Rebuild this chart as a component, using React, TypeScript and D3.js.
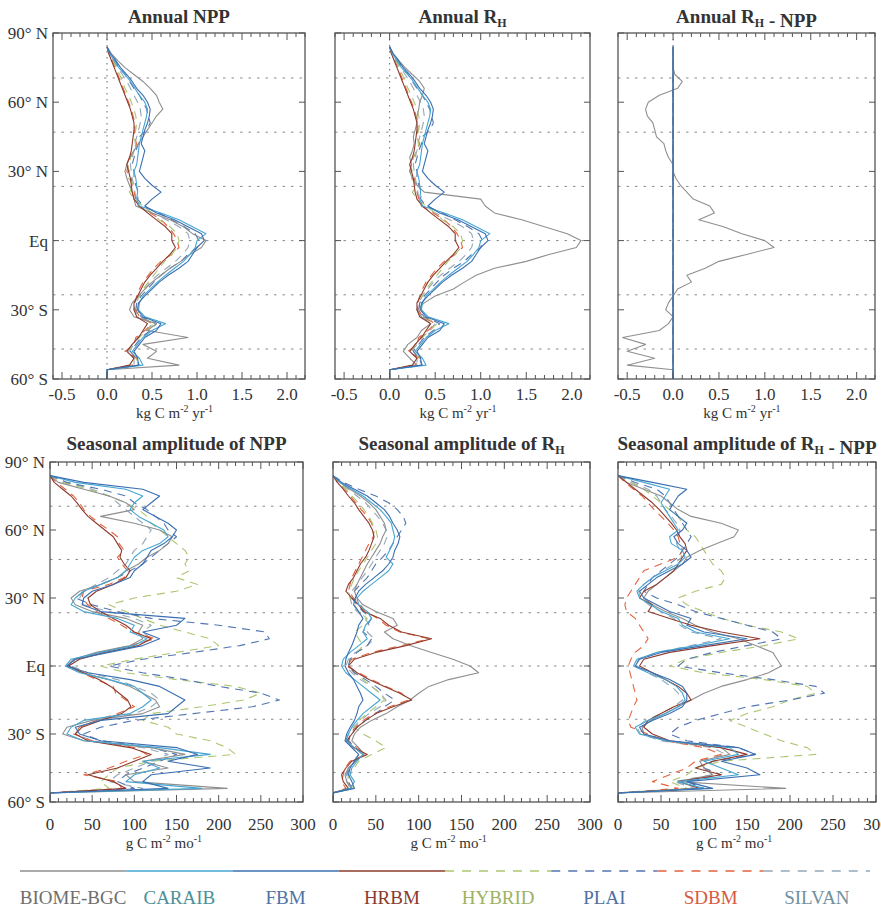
import React from 'react';
import * as d3 from 'd3';

const FONT = "'Liberation Serif','Times New Roman',Times,serif";

// latitude grid (degrees, north positive)
const lats = [
  84, 81, 78, 75, 72, 69, 66, 63, 60, 57,
  54, 51, 48, 45, 42, 39, 36, 33, 30, 27,
  24, 21, 18, 15, 12, 9, 6, 3, 0, -3,
  -6, -9, -12, -15, -18, -21, -24, -27, -30, -33,
  -36, -39, -42, -45, -48, -51, -54, -56, -60,
];

const modelNames = ['BIOME-BGC', 'CARAIB', 'FBM', 'HRBM', 'HYBRID', 'PLAI', 'SDBM', 'SILVAN'];
const lineColors = ['#8f8f8f', '#45a6d2', '#3a6fb2', '#8e3a2c', '#adc670', '#5276b0', '#e4623f', '#93a8b8'];
const labelColors = ['#6e6e6e', '#4a9199', '#4f73a6', '#8a3b2e', '#9db262', '#5070a4', '#d65b40', '#7190a0'];
const dashedModels = [false, false, false, false, true, true, true, true];

// ---------- Annual NPP (kg C m-2 yr-1) ----------
const annualNppBiome = [
  0, 0.05, 0.12, 0.2, 0.3, 0.4, 0.48, 0.55, 0.58, 0.62,
  0.55, 0.5, 0.45, 0.4, 0.35, 0.3, 0.25, 0.22, 0.2, 0.22,
  0.25, 0.28, 0.3, 0.32, 0.5, 0.7, 0.85, 0.95, 1.1, 1.05,
  0.92, 0.82, 0.7, 0.6, 0.5, 0.42, 0.35, 0.28, 0.25, 0.3,
  0.55, 0.45, 0.9, 0.4, 0.55, 0.45, 0.8, 0, 0,
];
const annualNppCaraib = [
  0, 0.03, 0.08, 0.13, 0.2, 0.26, 0.31, 0.36, 0.42, 0.45,
  0.44, 0.42, 0.4, 0.38, 0.36, 0.35, 0.34, 0.33, 0.3, 0.32,
  0.33, 0.34, 0.33, 0.36, 0.6, 0.8, 0.95, 1.1, 1.0, 0.98,
  0.92, 0.85, 0.75, 0.65, 0.56, 0.48, 0.4, 0.36, 0.35, 0.42,
  0.65, 0.5, 0.4, 0.34, 0.28, 0.36, 0.4, 0, 0,
];
const annualNppFbm = [
  0, 0.04, 0.1, 0.15, 0.22, 0.28, 0.33, 0.4, 0.45, 0.48,
  0.47, 0.45, 0.42, 0.4, 0.38, 0.42, 0.4, 0.38, 0.36, 0.42,
  0.5, 0.6, 0.5, 0.42, 0.55, 0.75, 0.9, 1.05, 1.08, 1.0,
  0.95, 0.9, 0.8, 0.68, 0.58, 0.5, 0.42, 0.35, 0.34, 0.4,
  0.6, 0.55, 0.42, 0.36, 0.3, 0.34, 0.35, 0, 0,
];
const annualNppHrbm = [
  0, 0.02, 0.05, 0.08, 0.11, 0.14, 0.17, 0.2, 0.23, 0.26,
  0.28, 0.3, 0.3, 0.29, 0.28, 0.27, 0.25, 0.22, 0.24, 0.26,
  0.27, 0.28, 0.3, 0.36, 0.45, 0.55, 0.65, 0.72, 0.72, 0.76,
  0.7, 0.62, 0.55, 0.48, 0.42, 0.38, 0.34, 0.3, 0.3, 0.33,
  0.45, 0.4, 0.35, 0.28, 0.22, 0.3, 0.25, 0, 0,
];
const annualNppHybrid = [
  0, 0.03, 0.07, 0.1, 0.14, 0.17, 0.2, 0.24, 0.27, 0.3,
  0.32, 0.33, 0.32, 0.3, 0.32, 0.3, 0.26, 0.22, 0.25, 0.24,
  0.3, 0.25, 0.3, 0.4, 0.5, 0.58, 0.7, 0.78, 0.8, 0.78,
  0.72, 0.64, 0.58, 0.52, 0.46, 0.4, 0.36, 0.32, 0.34, 0.38,
  0.52, 0.44, 0.36, 0.28, 0.24, 0.34, 0.3, 0, 0,
];
const annualNppPlai = [
  0, 0.03, 0.09, 0.14, 0.2, 0.25, 0.3, 0.36, 0.4, 0.44,
  0.46, 0.48, 0.44, 0.36, 0.35, 0.32, 0.3, 0.28, 0.3, 0.3,
  0.32, 0.35, 0.34, 0.4, 0.58, 0.72, 0.86, 0.98, 1.02, 1.0,
  0.9, 0.82, 0.7, 0.6, 0.52, 0.45, 0.38, 0.33, 0.32, 0.38,
  0.55, 0.48, 0.38, 0.32, 0.26, 0.32, 0.36, 0, 0,
];
const annualNppSdbm = [
  0, 0.02, 0.06, 0.09, 0.12, 0.15, 0.18, 0.21, 0.24, 0.27,
  0.29, 0.31, 0.31, 0.3, 0.33, 0.3, 0.26, 0.24, 0.22, 0.27,
  0.28, 0.3, 0.32, 0.35, 0.48, 0.6, 0.68, 0.74, 0.78, 0.8,
  0.72, 0.6, 0.52, 0.46, 0.4, 0.36, 0.33, 0.31, 0.32, 0.36,
  0.5, 0.42, 0.32, 0.3, 0.2, 0.33, 0.28, 0, 0,
];
const annualNppSilvan = [
  0, 0.03, 0.07, 0.12, 0.17, 0.22, 0.26, 0.3, 0.34, 0.37,
  0.38, 0.37, 0.35, 0.33, 0.31, 0.3, 0.28, 0.26, 0.27, 0.28,
  0.3, 0.31, 0.32, 0.35, 0.5, 0.66, 0.8, 0.9, 0.92, 0.9,
  0.84, 0.76, 0.66, 0.56, 0.48, 0.42, 0.36, 0.32, 0.3, 0.36,
  0.5, 0.44, 0.34, 0.3, 0.24, 0.3, 0.3, 0, 0,
];

// ---------- Annual RH (only BIOME-BGC differs from NPP) ----------
const annualRhBiome = [
  0, 0.04, 0.1, 0.17, 0.25, 0.33, 0.38, 0.36, 0.33, 0.32,
  0.3, 0.3, 0.28, 0.26, 0.27, 0.25, 0.22, 0.24, 0.22, 0.25,
  0.3, 0.38, 1.0, 1.05, 1.15, 1.45, 1.7, 1.95, 2.1, 2.05,
  1.75, 1.5, 1.15, 0.95, 0.82, 0.7, 0.5, 0.38, 0.3, 0.35,
  0.45, 0.35, 0.3, 0.2, 0.15, 0.22, 0.3, 0, 0,
];

// ---------- Annual RH - NPP ----------
const annualDiffBiome = [
  0, 0, 0, 0, 0.02, 0.1, 0.05, -0.15, -0.27, -0.3,
  -0.28, -0.22, -0.2, -0.18, -0.1, -0.08, -0.05, 0, 0, 0.03,
  0.08, 0.15, 0.22, 0.4, 0.45, 0.28, 0.55, 0.75, 1.0, 1.1,
  0.8, 0.5, 0.35, 0.15, 0.2, 0.05, 0, -0.05, -0.08, 0,
  -0.05, -0.15, -0.55, -0.3, -0.5, -0.2, -0.5, 0, 0,
];
const annualDiffBalanced = [
  0, 0, 0, 0, 0, 0, 0, 0, 0, 0,
  0, 0, 0, 0, 0, 0, 0, 0, 0, 0,
  0, 0, 0, 0, 0, 0, 0, 0, 0, 0,
  0, 0, 0, 0, 0, 0, 0, 0, 0, 0,
  0, 0, 0, 0, 0, 0, 0, 0, 0,
];

// ---------- Seasonal amplitude of NPP (g C m-2 mo-1) ----------
const seasNppBiome = [
  0, 10, 40, 70, 90, 100, 60, 100, 130, 145,
  140, 130, 115, 105, 90, 80, 60, 35, 25, 30,
  50, 90, 110, 105, 110, 95, 55, 28, 20, 38,
  70, 95, 110, 125, 130, 110, 50, 20, 15, 40,
  120, 160, 110, 140, 90, 100, 210, 0, 0,
];
const seasNppCaraib = [
  0, 30, 90, 110, 100, 95, 105, 120, 135, 140,
  130, 110, 100, 95, 90, 80, 60, 40, 30, 25,
  40, 80, 100, 95, 115, 100, 60, 25, 18, 35,
  70, 100, 110, 120, 110, 95, 40, 25, 20, 40,
  130, 190, 110, 130, 100, 90, 180, 0, 0,
];
const seasNppFbm = [
  0, 40, 110, 130, 120, 110, 125, 140, 150, 145,
  135, 120, 115, 110, 100, 95, 75, 50, 40, 38,
  60, 160, 150, 110, 130, 110, 70, 30, 20, 45,
  95, 130, 145, 160, 150, 140, 60, 30, 35, 60,
  150, 175, 140, 190, 120, 110, 140, 0, 0,
];
const seasNppHrbm = [
  0, 5, 15, 25, 32, 38, 45, 55, 65, 75,
  80, 85, 83, 88, 95, 90, 75, 55, 45, 48,
  60, 75, 90, 100, 120, 105, 65, 35, 22, 40,
  58, 72, 82, 92, 96, 85, 60, 38, 30, 45,
  95, 120, 100, 80, 45, 75, 90, 0, 0,
];
const seasNppHybrid = [
  0, 15, 45, 70, 90, 105, 115, 120, 130, 140,
  150, 160, 165, 160, 165, 150, 175, 150, 100, 70,
  90, 110, 130, 160, 190, 200, 150, 100, 60, 90,
  150, 220, 250, 230, 180, 120, 110, 140, 150, 190,
  210, 220, 120, 80, 70, 60, 70, 0, 0,
];
const seasNppPlai = [
  0, 20, 60, 90, 100, 115, 125, 135, 140, 150,
  140, 130, 120, 110, 95, 80, 60, 40, 30, 50,
  80, 120, 200, 255, 260, 225, 170, 110, 70, 110,
  160, 200, 250, 272, 240, 170, 100, 60, 40, 60,
  120, 150, 130, 110, 90, 80, 100, 0, 0,
];
const seasNppSdbm = [
  0, 8, 18, 28, 35, 40, 48, 58, 70, 80,
  82, 88, 80, 85, 92, 88, 70, 40, 38, 45,
  55, 70, 85, 98, 125, 95, 60, 30, 20, 38,
  55, 75, 78, 90, 100, 80, 55, 35, 28, 50,
  100, 115, 90, 70, 40, 80, 85, 0, 0,
];
const seasNppSilvan = [
  0, 20, 50, 70, 80, 90, 100, 110, 120, 115,
  110, 100, 95, 90, 80, 70, 55, 40, 35, 40,
  70, 100, 120, 110, 120, 100, 60, 30, 25, 45,
  80, 100, 120, 130, 120, 100, 55, 35, 30, 50,
  110, 140, 120, 100, 80, 70, 110, 0, 0,
];

// ---------- Seasonal amplitude of RH ----------
const seasRhBiome = [
  0, 8, 20, 32, 42, 50, 55, 60, 62, 58,
  55, 50, 45, 40, 36, 32, 28, 25, 28, 35,
  50, 70, 75, 60, 70, 90, 115, 140, 160, 170,
  135, 112, 100, 90, 75, 62, 45, 32, 25, 22,
  30, 36, 26, 18, 14, 16, 22, 0, 0,
];
const seasRhCaraib = [
  0, 8, 22, 35, 45, 55, 62, 68, 70, 72,
  70, 66, 62, 70, 65, 55, 45, 35, 28, 30,
  40, 45, 38, 35, 40, 30, 20, 12, 10, 15,
  25, 35, 45, 55, 45, 35, 28, 22, 18, 15,
  25, 35, 28, 22, 20, 25, 20, 0, 0,
];
const seasRhFbm = [
  0, 10, 25, 40, 50, 60, 66, 70, 75, 78,
  76, 72, 70, 65, 58, 48, 38, 30, 26, 24,
  30, 35, 30, 28, 25, 22, 18, 15, 14, 18,
  24, 28, 32, 35, 30, 28, 25, 20, 16, 14,
  22, 30, 25, 20, 18, 22, 25, 0, 0,
];
const seasRhHrbm = [
  0, 5, 12, 18, 25, 30, 36, 42, 46, 48,
  45, 42, 38, 32, 28, 24, 18, 15, 22, 30,
  36, 55, 65, 80, 115, 85, 50, 25, 18, 28,
  42, 60, 78, 92, 70, 50, 38, 28, 22, 16,
  24, 40, 22, 15, 10, 12, 18, 0, 0,
];
const seasRhHybrid = [
  0, 6, 15, 22, 30, 36, 42, 46, 50, 52,
  50, 45, 40, 35, 30, 25, 22, 18, 20, 25,
  30, 40, 35, 25, 30, 35, 28, 20, 18, 25,
  35, 45, 55, 60, 50, 40, 30, 25, 35, 50,
  62, 45, 30, 25, 20, 15, 25, 0, 0,
];
const seasRhPlai = [
  0, 12, 30, 50, 65, 75, 82, 85, 80, 75,
  70, 65, 58, 50, 45, 40, 32, 25, 22, 28,
  35, 45, 40, 35, 45, 40, 28, 20, 18, 25,
  38, 50, 60, 72, 60, 50, 38, 28, 22, 18,
  26, 34, 26, 20, 16, 18, 22, 0, 0,
];
const seasRhSdbm = [
  0, 6, 14, 20, 27, 33, 40, 45, 48, 47,
  42, 38, 34, 30, 26, 22, 20, 18, 24, 32,
  38, 52, 62, 78, 112, 80, 45, 22, 16, 30,
  45, 62, 80, 88, 66, 48, 35, 26, 20, 18,
  28, 38, 20, 14, 12, 10, 15, 0, 0,
];
const seasRhSilvan = [
  0, 7, 18, 28, 38, 45, 52, 58, 62, 63,
  60, 55, 50, 45, 40, 34, 28, 22, 20, 22,
  28, 38, 42, 40, 48, 40, 26, 18, 15, 22,
  32, 45, 55, 62, 55, 42, 32, 24, 18, 15,
  22, 30, 24, 18, 15, 16, 20, 0, 0,
];

// ---------- Seasonal amplitude of RH - NPP ----------
const seasDiffBiome = [
  0, 10, 30, 50, 60, 70, 85, 120, 140, 135,
  115, 95, 80, 75, 65, 55, 45, 35, 30, 40,
  55, 75, 90, 110, 140, 160, 180, 185, 190, 175,
  150, 120, 100, 85, 70, 55, 38, 28, 30, 55,
  120, 130, 95, 100, 110, 70, 195, 0, 0,
];
const seasDiffCaraib = [
  0, 30, 60, 55, 50, 55, 60, 65, 70, 60,
  62, 75, 78, 70, 55, 40, 30, 22, 25, 38,
  50, 70, 75, 90, 130, 90, 45, 22, 18, 35,
  55, 68, 75, 78, 70, 55, 35, 20, 25, 55,
  130, 140, 100, 120, 140, 70, 100, 0, 0,
];
const seasDiffFbm = [
  0, 40, 80, 70, 65, 60, 70, 80, 75, 65,
  70, 80, 85, 75, 60, 45, 35, 25, 30, 45,
  60, 85, 80, 100, 150, 100, 50, 25, 20, 40,
  60, 75, 80, 80, 75, 60, 40, 25, 30, 60,
  140, 160, 120, 150, 165, 80, 110, 0, 0,
];
const seasDiffHrbm = [
  0, 10, 20, 30, 40, 48, 55, 62, 68, 72,
  78, 80, 75, 70, 65, 55, 45, 30, 25, 40,
  35, 60, 85, 120, 165, 110, 60, 30, 25, 40,
  55, 70, 80, 85, 65, 50, 35, 30, 40, 60,
  120, 150, 110, 90, 120, 70, 95, 0, 0,
];
const seasDiffHybrid = [
  0, 15, 30, 40, 50, 60, 70, 75, 80, 90,
  95, 100, 105, 110, 120, 125, 120, 90, 70, 80,
  100, 120, 150, 190, 210, 170, 120, 80, 60, 100,
  170, 220, 230, 200, 180, 150, 130, 150, 170, 190,
  220, 230, 120, 90, 80, 60, 80, 0, 0,
];
const seasDiffPlai = [
  0, 20, 45, 55, 60, 65, 70, 75, 80, 85,
  80, 75, 70, 60, 50, 40, 35, 30, 45, 70,
  90, 120, 150, 180, 190, 150, 110, 80, 70, 120,
  180, 230, 240, 200, 150, 120, 90, 70, 60, 80,
  140, 160, 110, 100, 120, 80, 100, 0, 0,
];
const seasDiffSdbm = [
  0, 8, 18, 28, 35, 42, 50, 58, 65, 70,
  72, 75, 70, 50, 30, 25, 20, 15, 10, 8,
  10, 20, 25, 30, 35, 30, 20, 15, 12, 14,
  16, 18, 20, 22, 18, 15, 12, 15, 35, 55,
  100, 120, 90, 80, 60, 40, 70, 0, 0,
];
const seasDiffSilvan = [
  0, 15, 35, 45, 50, 55, 62, 68, 72, 70,
  68, 72, 74, 65, 52, 40, 30, 24, 26, 36,
  50, 65, 72, 85, 120, 85, 45, 24, 20, 35,
  50, 62, 70, 75, 65, 50, 32, 22, 26, 50,
  110, 125, 95, 100, 110, 65, 90, 0, 0,
];

// ---------- axes ----------
const latTicks = [90, 60, 30, 0, -30, -60];
const latTickLabels = ['90° N', '60° N', '30° N', 'Eq', '30° S', '60° S'];
const refLats = [70.5, 47, 23.5, 0, -23.5, -47];
const annualTicks = [-0.5, 0, 0.5, 1, 1.5, 2];
const annualTickLabels = ['-0.5', '0.0', '0.5', '1.0', '1.5', '2.0'];
const seasonalTicks = [0, 50, 100, 150, 200, 250, 300];
const seasonalTickLabels = ['0', '50', '100', '150', '200', '250', '300'];

type PanelDef = {
  key: string;
  title: React.ReactNode;
  x0: number; x1: number; y0: number; y1: number;
  domain: [number, number];
  ticks: number[]; tickLabels: string[];
  minor: number[];
  series: number[][];
  yLabels: boolean;
  zeroLine: boolean;
  annual: boolean;
};

const RH = (
  <>
    <tspan>R</tspan>
    <tspan fontSize="12" dy="4">H</tspan>
    <tspan dy="-4"></tspan>
  </>
);

const annualMinor = d3.range(-6, 23).map((k) => k / 10);
const seasonalMinor = d3.range(0, 31).map((k) => k * 10);

const TOP = { y0: 33, y1: 379 };
const BOT = { y0: 462, y1: 802 };

const panels: PanelDef[] = [
  {
    key: 'a', title: <tspan>Annual NPP</tspan>, x0: 53, x1: 305, ...TOP,
    domain: [-0.6, 2.2], ticks: annualTicks, tickLabels: annualTickLabels, minor: annualMinor,
    series: [annualNppBiome, annualNppCaraib, annualNppFbm, annualNppHrbm, annualNppHybrid, annualNppPlai, annualNppSdbm, annualNppSilvan],
    yLabels: true, zeroLine: true, annual: true,
  },
  {
    key: 'b', title: <><tspan>Annual </tspan>{RH}</>, x0: 335, x1: 590, ...TOP,
    domain: [-0.6, 2.2], ticks: annualTicks, tickLabels: annualTickLabels, minor: annualMinor,
    series: [annualRhBiome, annualNppCaraib, annualNppFbm, annualNppHrbm, annualNppHybrid, annualNppPlai, annualNppSdbm, annualNppSilvan],
    yLabels: false, zeroLine: true, annual: true,
  },
  {
    key: 'c', title: <><tspan>Annual </tspan>{RH}<tspan> - NPP</tspan></>, x0: 618, x1: 875, ...TOP,
    domain: [-0.6, 2.2], ticks: annualTicks, tickLabels: annualTickLabels, minor: annualMinor,
    series: [annualDiffBiome, annualDiffBalanced, annualDiffBalanced, annualDiffBalanced, annualDiffBalanced, annualDiffBalanced, annualDiffBalanced, annualDiffBalanced],
    yLabels: false, zeroLine: true, annual: true,
  },
  {
    key: 'd', title: <tspan>Seasonal amplitude of NPP</tspan>, x0: 50, x1: 303, ...BOT,
    domain: [0, 300], ticks: seasonalTicks, tickLabels: seasonalTickLabels, minor: seasonalMinor,
    series: [seasNppBiome, seasNppCaraib, seasNppFbm, seasNppHrbm, seasNppHybrid, seasNppPlai, seasNppSdbm, seasNppSilvan],
    yLabels: true, zeroLine: false, annual: false,
  },
  {
    key: 'e', title: <><tspan>Seasonal amplitude of </tspan>{RH}</>, x0: 333, x1: 590, ...BOT,
    domain: [0, 300], ticks: seasonalTicks, tickLabels: seasonalTickLabels, minor: seasonalMinor,
    series: [seasRhBiome, seasRhCaraib, seasRhFbm, seasRhHrbm, seasRhHybrid, seasRhPlai, seasRhSdbm, seasRhSilvan],
    yLabels: false, zeroLine: false, annual: false,
  },
  {
    key: 'f', title: <><tspan>Seasonal amplitude of </tspan>{RH}<tspan> - NPP</tspan></>, x0: 618, x1: 876, ...BOT,
    domain: [0, 300], ticks: seasonalTicks, tickLabels: seasonalTickLabels, minor: seasonalMinor,
    series: [seasDiffBiome, seasDiffCaraib, seasDiffFbm, seasDiffHrbm, seasDiffHybrid, seasDiffPlai, seasDiffSdbm, seasDiffSilvan],
    yLabels: false, zeroLine: false, annual: false,
  },
];

// draw order: dashed first, then solid lines on top
const drawOrder = [7, 6, 4, 5, 0, 3, 1, 2];

function Panel({ p }: { p: PanelDef }) {
  const x = d3.scaleLinear().domain(p.domain).range([p.x0, p.x1]);
  const y = d3.scaleLinear().domain([90, -60]).range([p.y0, p.y1]);
  const line = d3.line<number>().x((d) => x(d)).y((d, i) => y(lats[i]));
  const cx = (p.x0 + p.x1) / 2;
  const isMajor = (v: number) => p.ticks.some((t) => Math.abs(t - v) < 1e-6);
  const titleY = p.annual ? 23 : 450;
  const tickLabelY = p.annual ? 400 : 830;
  const axisTitleY = p.annual ? 418 : 848;
  return (
    <g>
      <defs>
        <clipPath id={`clip-${p.key}`}>
          <rect x={p.x0} y={p.y0} width={p.x1 - p.x0} height={p.y1 - p.y0} />
        </clipPath>
      </defs>
      <text x={cx} y={titleY} textAnchor="middle" fontFamily={FONT} fontSize={19} fontWeight="bold" fill="#333">
        {p.title}
      </text>
      {refLats.map((l) => (
        <line key={l} x1={p.x0} x2={p.x1} y1={y(l)} y2={y(l)} stroke="#8a8a8a" strokeWidth={1} strokeDasharray="2.5,6" />
      ))}
      {p.zeroLine && (
        <line x1={x(0)} x2={x(0)} y1={p.y0} y2={p.y1} stroke="#666" strokeWidth={1} strokeDasharray="1.5,4.5" />
      )}
      <g clipPath={`url(#clip-${p.key})`}>
        {drawOrder.map((m) => (
          <path
            key={m}
            d={line(p.series[m]) || ''}
            fill="none"
            stroke={lineColors[m]}
            strokeWidth={1.1}
            strokeDasharray={dashedModels[m] ? '8,6' : undefined}
            strokeLinejoin="round"
          />
        ))}
      </g>
      <rect x={p.x0} y={p.y0} width={p.x1 - p.x0} height={p.y1 - p.y0} fill="none" stroke="#555" strokeWidth={1.3} />
      {p.minor.map((v) => {
        const len = isMajor(v) ? 7 : 4;
        return (
          <g key={v}>
            <line x1={x(v)} x2={x(v)} y1={p.y1} y2={p.y1 - len} stroke="#555" strokeWidth={1} />
            <line x1={x(v)} x2={x(v)} y1={p.y0} y2={p.y0 + len} stroke="#555" strokeWidth={1} />
          </g>
        );
      })}
      {latTicks.map((l) => (
        <g key={l}>
          <line x1={p.x0} x2={p.x0 + 6} y1={y(l)} y2={y(l)} stroke="#555" strokeWidth={1} />
          <line x1={p.x1} x2={p.x1 - 6} y1={y(l)} y2={y(l)} stroke="#555" strokeWidth={1} />
        </g>
      ))}
      {p.yLabels &&
        latTicks.map((l, i) => (
          <text key={l} x={p.x0 - 5} y={y(l)} dy="0.35em" textAnchor="end" fontFamily={FONT} fontSize={17} fill="#333">
            {latTickLabels[i]}
          </text>
        ))}
      {p.ticks.map((t, i) => (
        <text key={t} x={x(t)} y={tickLabelY} textAnchor="middle" fontFamily={FONT} fontSize={17} fill="#333">
          {p.tickLabels[i]}
        </text>
      ))}
      <text x={p.annual ? x(0.75) : x(135)} y={axisTitleY} textAnchor="middle" fontFamily={FONT} fontSize={15} fill="#333">
        {p.annual ? (
          <>
            <tspan>kg C m</tspan>
            <tspan fontSize="10" dy="-6">-2</tspan>
            <tspan dy="6"> yr</tspan>
            <tspan fontSize="10" dy="-6">-1</tspan>
          </>
        ) : (
          <>
            <tspan>g C m</tspan>
            <tspan fontSize="10" dy="-6">-2</tspan>
            <tspan dy="6"> mo</tspan>
            <tspan fontSize="10" dy="-6">-1</tspan>
          </>
        )}
      </text>
    </g>
  );
}

function Legend() {
  const band = d3.scaleBand<string>().domain(modelNames).range([20, 870]);
  return (
    <g>
      {modelNames.map((name, i) => {
        const x0 = band(name) as number;
        return (
          <g key={name}>
            <line
              x1={x0}
              x2={x0 + band.bandwidth()}
              y1={871}
              y2={871}
              stroke={lineColors[i]}
              strokeWidth={1.5}
              strokeDasharray={dashedModels[i] ? '9,8' : undefined}
            />
            <text x={x0 + band.bandwidth() / 2} y={904} textAnchor="middle" fontFamily={FONT} fontSize={19} fill={labelColors[i]}>
              {name}
            </text>
          </g>
        );
      })}
    </g>
  );
}

export default function App() {
  return (
    <svg
      width={881}
      height={911}
      viewBox="0 0 881 911"
      style={{ position: 'absolute', left: 0, top: 0, background: '#fff' }}
    >
      <rect x={0} y={0} width={881} height={911} fill="#fff" />
      {panels.map((p) => (
        <Panel key={p.key} p={p} />
      ))}
      <Legend />
    </svg>
  );
}
